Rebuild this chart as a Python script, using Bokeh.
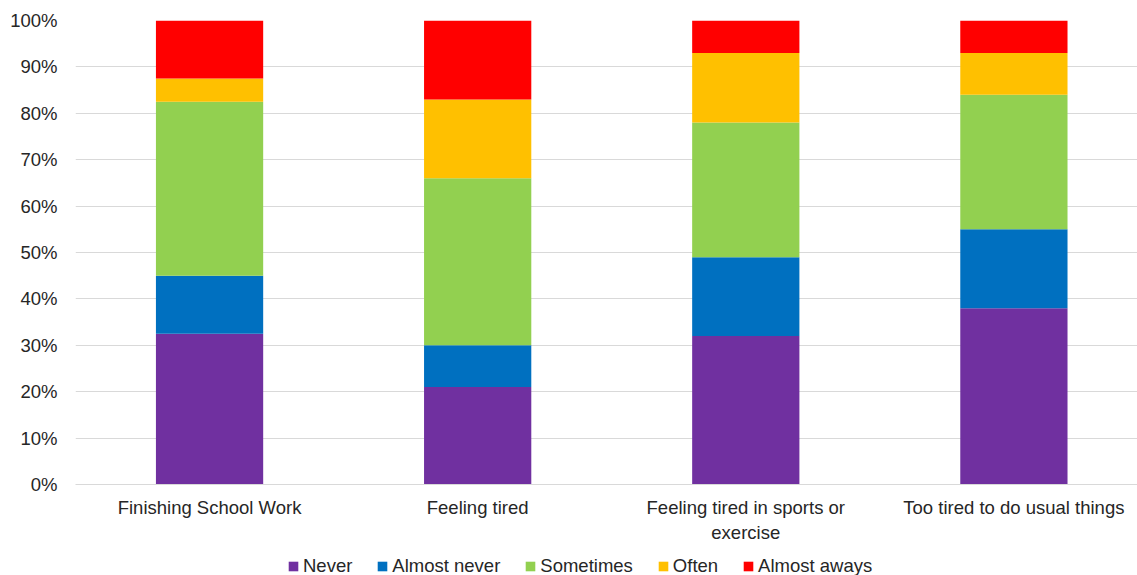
from bokeh.plotting import figure
from bokeh.layouts import column
from bokeh.models import ColumnDataSource, Legend, LegendItem, NumeralTickFormatter, FixedTicker, Range1d
from bokeh.embed import file_html
from bokeh.resources import INLINE

categories = ["Finishing School Work", "Feeling tired", "Feeling tired in sports or\nexercise", "Too tired to do usual things"]
never = [0.325, 0.21, 0.32, 0.38]
almost_never = [0.125, 0.09, 0.17, 0.17]
sometimes = [0.375, 0.36, 0.29, 0.29]
often = [0.05, 0.17, 0.15, 0.09]
almost_always = [0.125, 0.17, 0.07, 0.07]
series_names = ["Never", "Almost never", "Sometimes", "Often", "Almost aways"]
colors = ["#7030A0", "#0070C0", "#92D050", "#FFC000", "#FF0000"]
y_ticks = [0, 0.1, 0.2, 0.3, 0.4, 0.5, 0.6, 0.7, 0.8, 0.9, 1.0]

xs = list(range(len(categories)))
keys = ["never", "almost_never", "sometimes", "often", "almost_always"]
source = ColumnDataSource(dict(x=xs, never=never, almost_never=almost_never,
                               sometimes=sometimes, often=often, almost_always=almost_always))

FONT = "Liberation Sans"
TXT = "#262626"
FS = "18.5px"

p = figure(width=1137, height=545, output_backend="svg", toolbar_location=None,
           x_range=Range1d(-0.5, 3.461), y_range=Range1d(0, 1),
           min_border_left=75, min_border_top=20, min_border_right=0, min_border_bottom=61)
p.outline_line_color = None

p.vbar_stack(keys, x="x", width=0.4, color=colors, line_color=None, source=source)

p.yaxis.ticker = FixedTicker(ticks=y_ticks)
p.yaxis.formatter = NumeralTickFormatter(format="0%")
p.yaxis.axis_line_color = None
p.yaxis.major_tick_line_color = None
p.yaxis.major_tick_out = 0
p.yaxis.major_tick_in = 0
p.yaxis.minor_tick_line_color = None
p.yaxis.major_label_standoff = 18
p.yaxis.major_label_text_font = FONT
p.yaxis.major_label_text_font_size = FS
p.yaxis.major_label_text_color = TXT

p.xaxis.ticker = FixedTicker(ticks=xs)
p.xaxis.major_label_overrides = {i: c for i, c in zip(xs, categories)}
p.xaxis.axis_line_color = "#d9d9d9"
p.xaxis.axis_line_width = 1
p.xaxis.major_tick_line_color = None
p.xaxis.major_tick_out = 0
p.xaxis.major_tick_in = 0
p.xaxis.minor_tick_line_color = None
p.xaxis.major_label_standoff = 12
p.xaxis.major_label_text_font = FONT
p.xaxis.major_label_text_font_size = FS
p.xaxis.major_label_text_color = TXT

p.xgrid.grid_line_color = None
p.ygrid.grid_line_color = "#d9d9d9"
p.ygrid.grid_line_width = 1

# Legend strip below the chart
lg = figure(width=1137, height=30, output_backend="svg", toolbar_location=None,
            x_range=Range1d(-0.5, 3.461), y_range=Range1d(5, 6),
            x_axis_location=None, y_axis_location=None,
            min_border_left=0, min_border_top=0, min_border_right=0, min_border_bottom=0)
lg.outline_line_color = None
lg.grid.grid_line_color = None
lrs = lg.vbar_stack(keys, x="x", width=0.4, color=colors, line_color=None, source=source)

legend = Legend(items=[LegendItem(label=n, renderers=[r]) for n, r in zip(series_names, lrs)],
                orientation="horizontal", location=(212, -2),
                label_text_font=FONT, label_text_font_size=FS, label_text_color=TXT,
                glyph_width=12, glyph_height=12, label_standoff=4, spacing=24,
                padding=0, margin=0, border_line_color=None, background_fill_alpha=0)
lg.add_layout(legend, "center")

layout = column(p, lg, spacing=0)
open("out.html", "w").write(file_html(layout, INLINE))
